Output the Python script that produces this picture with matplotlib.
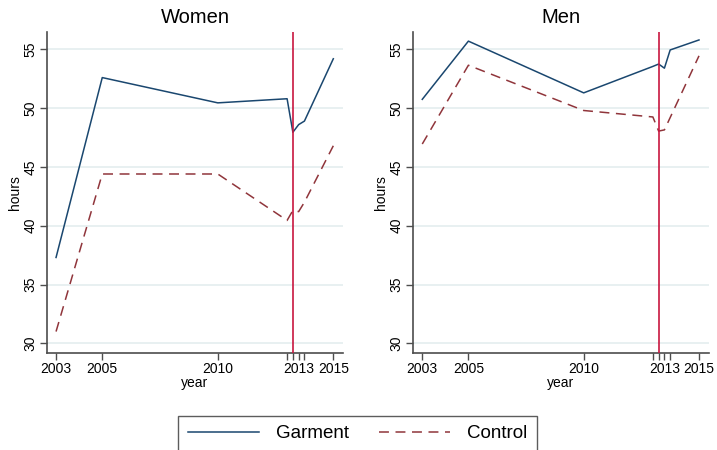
import matplotlib.pyplot as plt
from matplotlib.lines import Line2D

plt.rcParams['font.family'] = ['Liberation Sans', 'DejaVu Sans']

# Survey rounds (fractional years for the 2013 quarters)
years = [2003, 2005, 2010, 2013.0, 2013.25, 2013.5, 2013.75, 2015]

# Weekly working hours
women_garment = [37.3, 52.6, 50.45, 50.8, 47.95, 48.6, 48.9, 54.2]
women_control = [31.0, 44.4, 44.4, 40.45, 41.3, 41.2, 42.0, 46.8]
men_garment = [50.75, 55.7, 51.3, 53.55, 53.75, 53.4, 54.95, 55.8]
men_control = [46.95, 53.65, 49.8, 49.25, 48.05, 48.15, 49.2, 54.45]

event_year = 2013.26  # vertical marker line

major_ticks = [2003, 2005, 2010, 2013.5, 2015]
major_labels = ['2003', '2005', '2010', '2013', '2015']
minor_ticks = [2013.0, 2013.25, 2013.75]
y_ticks = [30, 35, 40, 45, 50, 55]

navy = '#1a476f'
maroon = '#90353b'
cranberry = '#c8163f'
grid_col = '#e8f0f1'

fig = plt.figure(figsize=(7.17, 4.5), dpi=100)
ax1 = fig.add_axes([0.0656, 0.2162, 0.4128, 0.7133])
ax2 = fig.add_axes([0.5764, 0.2162, 0.4120, 0.7133])

panels = [(ax1, 'Women', women_garment, women_control),
          (ax2, 'Men', men_garment, men_control)]

for ax, title, g, c in panels:
    for yt in y_ticks:
        ax.axhline(yt, color=grid_col, lw=1.4, zorder=0)
    ax.plot(years, g, color=navy, lw=1.1, zorder=3)
    ax.plot(years, c, color=maroon, lw=1.1, dashes=(6.5, 4.3), zorder=3)
    ax.axvline(event_year, color=cranberry, lw=1.2, zorder=4)

    ax.set_xlim(2002.61, 2015.42)
    ax.set_ylim(29.2, 56.5)
    ax.set_yticks(y_ticks)
    ax.set_yticklabels([str(v) for v in y_ticks], rotation=90, va='center')
    ax.set_xticks(major_ticks)
    ax.set_xticklabels(major_labels)
    ax.set_xticks(minor_ticks, minor=True)

    for s in ['top', 'right']:
        ax.spines[s].set_visible(False)
    for s in ['left', 'bottom']:
        ax.spines[s].set_color('#4d4d4d')
        ax.spines[s].set_linewidth(1.2)
    ax.tick_params(axis='both', which='both', direction='out', length=5,
                   width=1.0, color='#4d4d4d', labelsize=10, pad=2)

    ax.set_title(title, fontsize=14.5, pad=6)
    ax.set_xlabel('year', fontsize=10, labelpad=0)
    ax.set_ylabel('hours', fontsize=10, labelpad=1)

handles = [Line2D([], [], color=navy, lw=1.1),
           Line2D([], [], color=maroon, lw=1.1, dashes=(6.5, 4.3))]
leg = fig.legend(handles, ['Garment', 'Control'], loc='upper center',
                 bbox_to_anchor=(0.4985, 0.076), ncol=2, fontsize=13.5,
                 frameon=True, fancybox=False, edgecolor='#333333',
                 handlelength=3.8, handletextpad=0.9, columnspacing=1.6,
                 borderpad=0.5, borderaxespad=0)
leg.get_frame().set_linewidth(1.0)

fig.savefig('out.png', dpi=100)
